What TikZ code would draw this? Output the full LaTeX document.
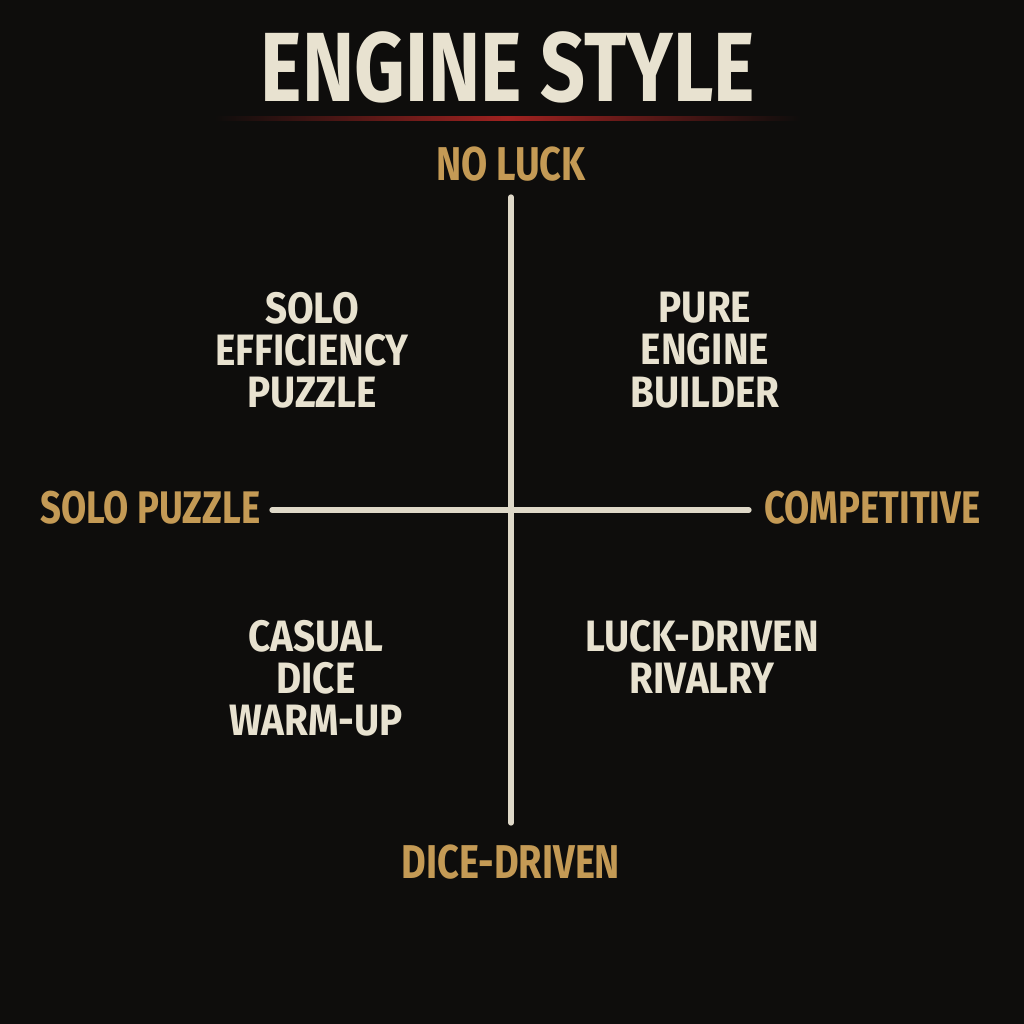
\documentclass[tikz,border=0pt]{standalone}
\usepackage{fontspec}
\setmainfont{Fira Sans}[FakeStretch=0.8]
\newfontfamily\quadfont{Fira Sans}[FakeStretch=0.88]
\usetikzlibrary{positioning}
\usetikzlibrary{calc}

\definecolor{bgblack}{HTML}{0E0D0C}
\definecolor{gold}{HTML}{C49A55}
\definecolor{chalk}{HTML}{E8E2D0}
\definecolor{darkred}{HTML}{A02220}

\tikzset{
  axislabel/.style={text=gold, font=\bfseries\fontsize{27}{27}\selectfont, inner sep=0pt},
  sidelabel/.style={axislabel, font=\bfseries\fontsize{26}{26}\selectfont},
  quadtext/.style={text=chalk, align=center, font=\quadfont\bfseries\fontsize{25}{24}\selectfont, inner sep=0pt},
  axisline/.style={draw=chalk!90!gray, line width=3pt, line cap=round}
}

\begin{document}
\begin{tikzpicture}[x=0.02cm,y=-0.02cm]
\fill[bgblack] (0,0) rectangle (1024,1024);
\useasboundingbox (0,0) rectangle (1024,1024);
% title and red rule
\node[text=chalk, font=\bfseries\fontsize{56}{56}\selectfont, inner sep=0pt] (title) at (508,67) {ENGINE STYLE};
\shade[left color=bgblack, right color=bgblack, middle color=darkred] (215,117) rectangle (800,121);
% axis labels
\node[axislabel] (noluck) at (511,164) {NO LUCK};
\node[axislabel] (dice) at (511,862) {DICE-DRIVEN};
\node[sidelabel, anchor=west] (solo) at (40,508) {SOLO PUZZLE};
\node[sidelabel, anchor=east] (comp) at (981,508) {COMPETITIVE};
% axes
\coordinate (top) at (511,197);
\coordinate (bot) at (511,823);
\coordinate (left) at (272,510);
\coordinate (right) at (749,510);
\draw[axisline] (top) -- (bot);
\draw[axisline] (left) -- (right);
% quadrants
\node[quadtext] (q1) at (312,350) {SOLO\\EFFICIENCY\\PUZZLE};
\node[quadtext] (q2) at (705,350) {PURE\\ENGINE\\BUILDER};
\node[quadtext] (q3) at (316,678) {CASUAL\\DICE\\WARM-UP};
\node[quadtext] (q4) at (702,657) {LUCK-DRIVEN\\RIVALRY};
\end{tikzpicture}
\end{document}
